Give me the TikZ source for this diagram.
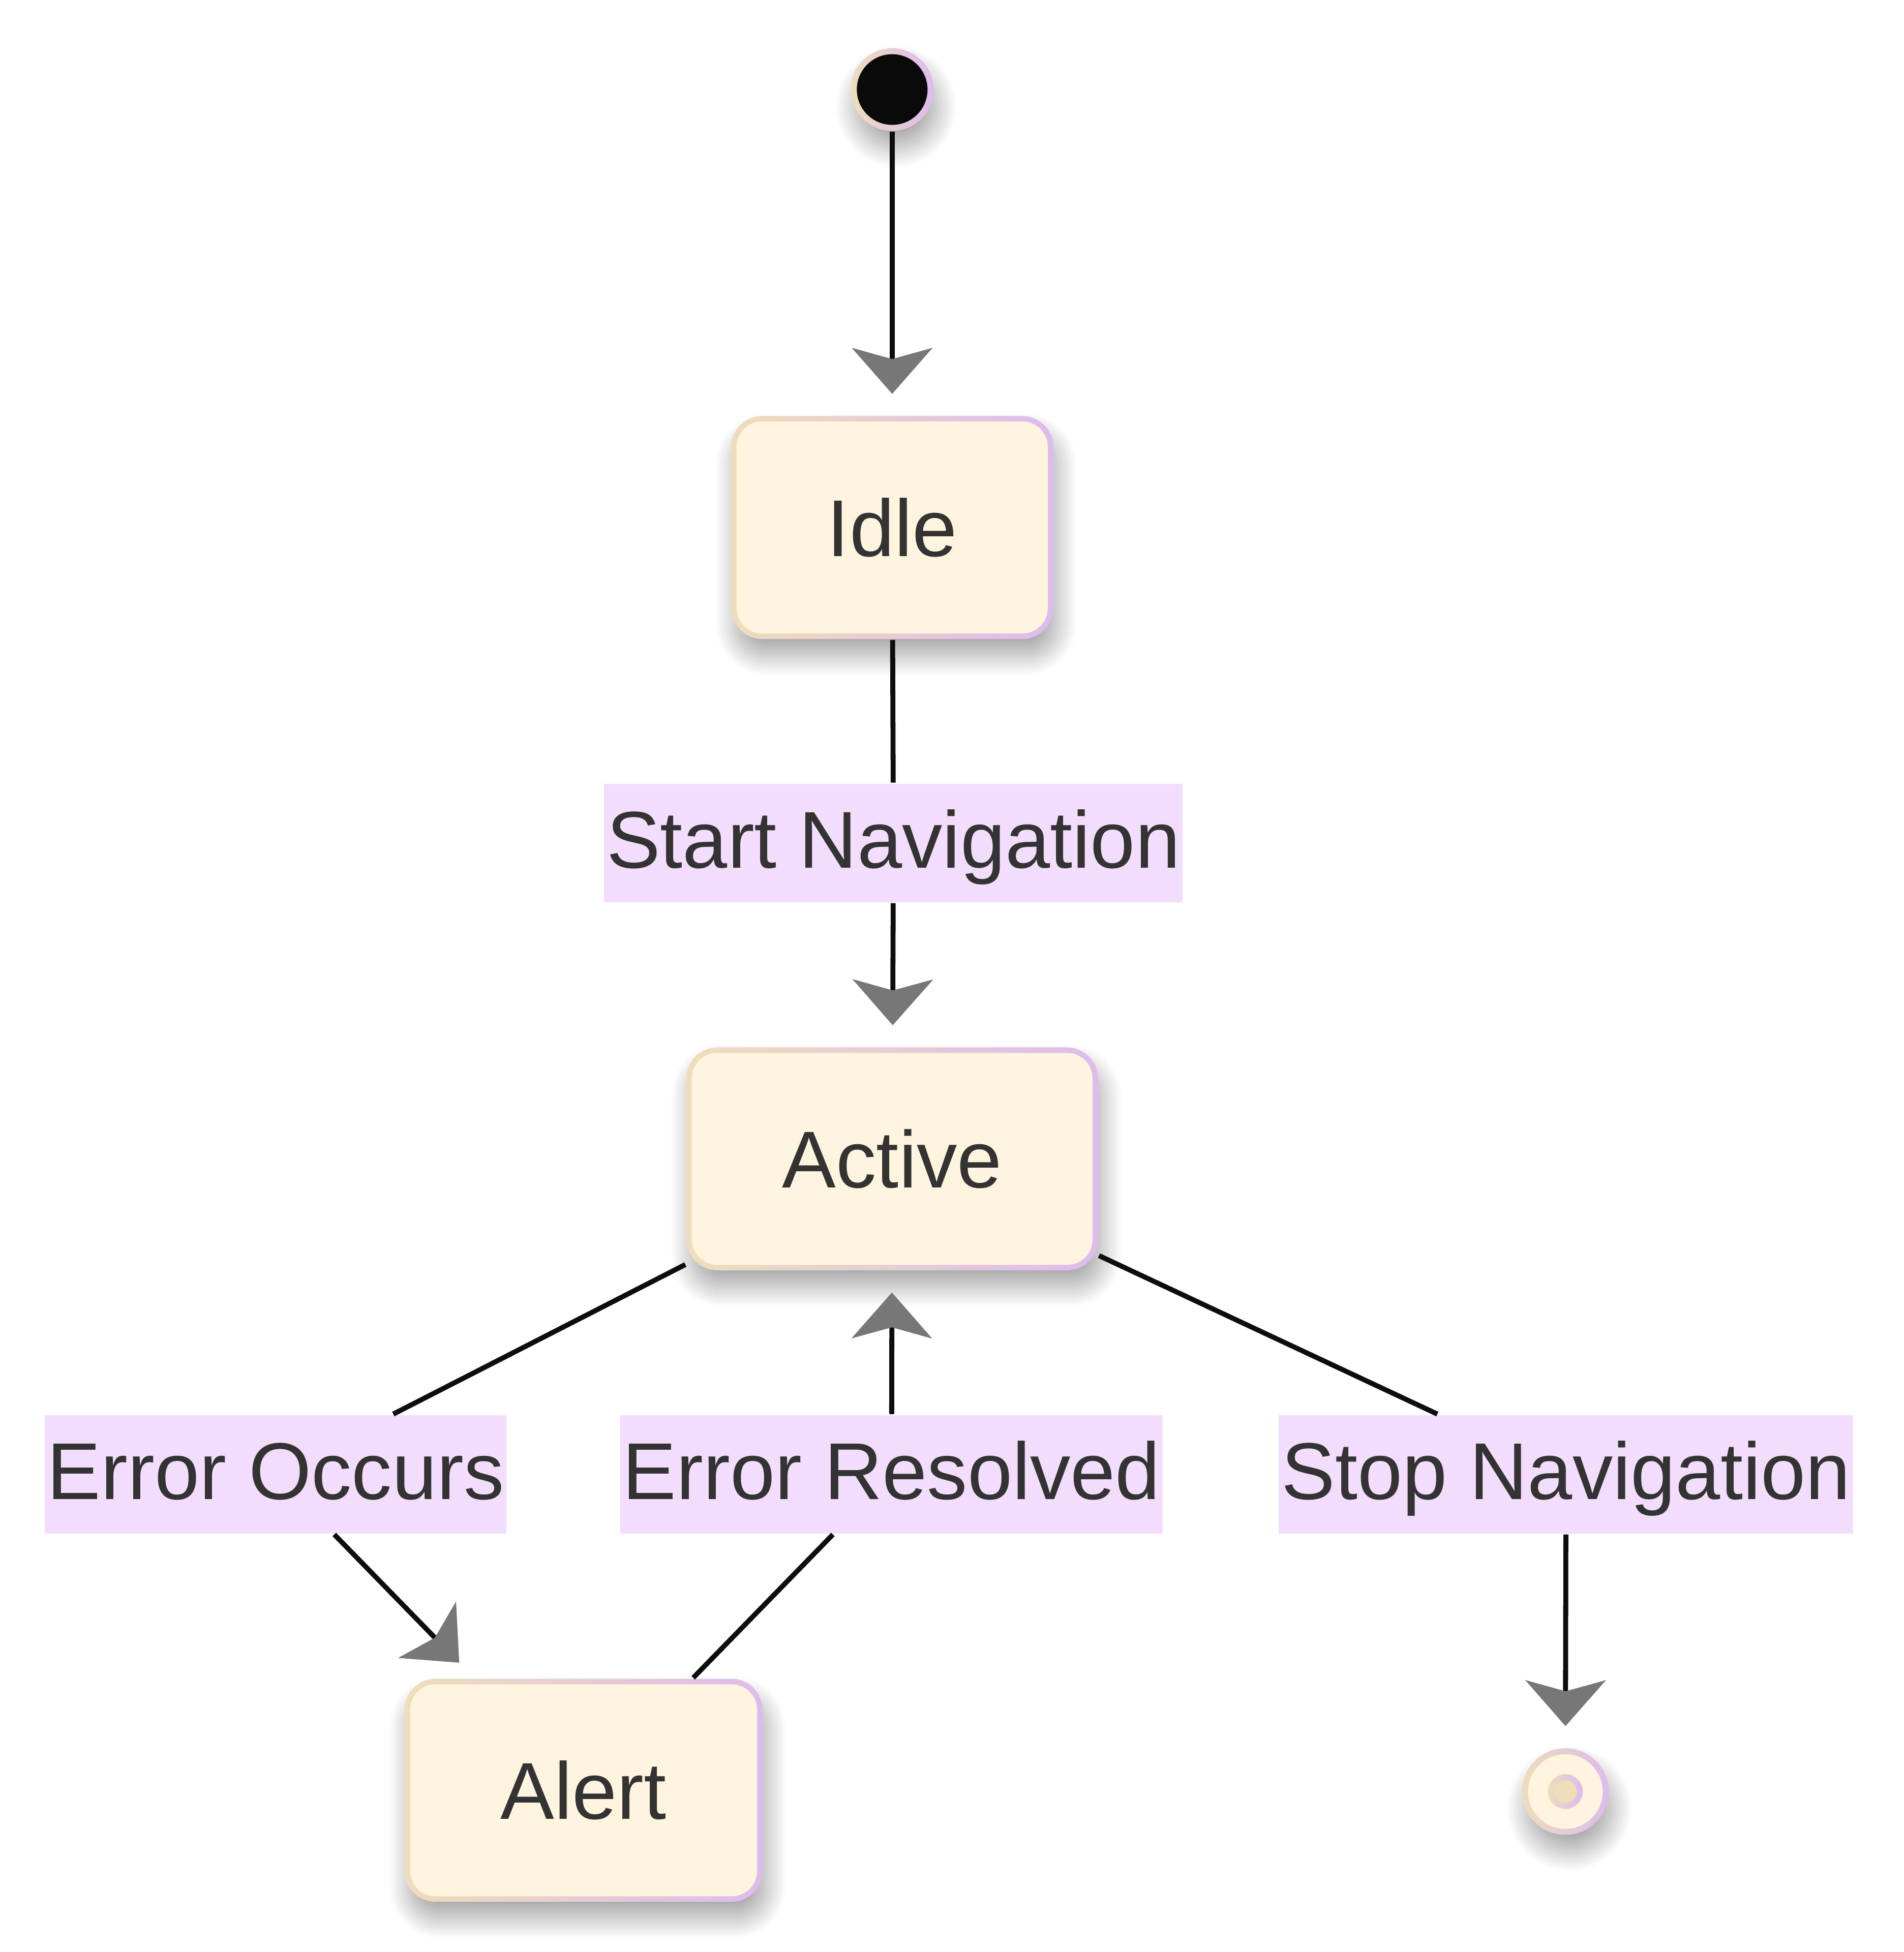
\documentclass[tikz,border=0pt]{standalone}
\usepackage{fontspec}
\setmainfont{Liberation Sans}
\usetikzlibrary{arrows.meta,shadows.blur}
\definecolor{boxcream}{HTML}{FFF4DD}
\definecolor{rimtan}{HTML}{EEDDBB}
\definecolor{rimlilac}{HTML}{DDBBEE}
\definecolor{lblpink}{HTML}{F3DDFC}
\definecolor{inkgray}{HTML}{333333}
\definecolor{wireblack}{HTML}{0D0D0D}
\definecolor{tipgray}{HTML}{777777}
\definecolor{dotblack}{HTML}{0A0A0A}

\tikzset{
  softshadow/.style={blur shadow={shadow xshift=0.8pt,shadow yshift=-3.4pt,shadow blur radius=4pt,
    shadow blur steps=40,shadow opacity=35}},
  statebox/.style={rectangle, rounded corners=6.25pt, left color=rimtan, right color=rimlilac, softshadow,
    minimum height=44.8pt, inner xsep=19.3pt, inner ysep=0pt, text height=11.6pt, text depth=0pt, text=inkgray,
    path picture={\fill[boxcream, rounded corners=5.1pt]
      ([shift={(1.1pt,-1.1pt)}]path picture bounding box.north west) rectangle
      ([shift={(-1.1pt,1.1pt)}]path picture bounding box.south east);}},
  translabel/.style={fill=lblpink, text=inkgray, inner xsep=0.5pt, inner ysep=5.3pt, text height=11.6pt, text depth=1.6pt},
  startdot/.style={circle, minimum size=16.6pt, inner sep=0pt, left color=rimtan, right color=rimlilac, softshadow,
    path picture={\fill[dotblack] (path picture bounding box.center) circle (7.1pt);}},
  enddot/.style={circle, minimum size=17.4pt, inner sep=0pt, left color=rimtan, right color=rimlilac, softshadow,
    path picture={\fill[boxcream] (path picture bounding box.center) circle (7.5pt);
      \shade[left color=rimtan, right color=rimlilac] (path picture bounding box.center) circle (3.5pt);
      \fill[rimtan] (path picture bounding box.center) circle (2.3pt);}},
  wire/.style={draw=wireblack, line width=1pt, shorten >=4.25pt,
    -{Stealth[length=9.25pt,width=16.25pt,inset=2.25pt,color=tipgray,line width=0pt]}}
}

\begin{document}
\begin{tikzpicture}[x=0.25pt,y=-0.25pt,every node/.style={font=\fontsize{16.2}{19}\selectfont}]
        \useasboundingbox (0,0) rectangle (1530,1569);
        % States
        \node[startdot] (start) at (717,72) {};
        \node[statebox] (idle) at (717,424) {Idle};
        \node[statebox] (active) at (717,931.5) {Active};
        \node[statebox] (alert) at (469,1439) {Alert};
        \node[enddot] (finish) at (1258,1440) {};
        % Transition labels
        \node[translabel] (lblstart) at (718,677.5) {Start Navigation};
        \node[translabel] (lblerror) at (221.5,1185) {Error Occurs};
        \node[translabel] (lblfixed) at (716.5,1185) {Error Resolved};
        \node[translabel] (lblstop) at (1258.5,1185) {Stop Navigation};
        % Transitions
        \draw[wire] (start) -- (idle);
        \draw[wire] (idle) -- (lblstart) -- (active);
        \draw[wire] (active) -- (lblerror) -- (alert);
        \draw[wire] (alert) -- (lblfixed) -- (active);
        \draw[wire] (active) -- (lblstop) -- (finish);
    \end{tikzpicture}
\end{document}
